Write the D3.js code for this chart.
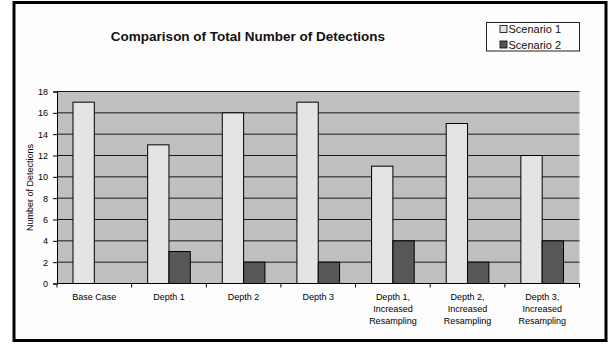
<!DOCTYPE html>
<html>
<head>
<meta charset="utf-8">
<script src="https://cdn.jsdelivr.net/npm/d3@7"></script>
<style>
  html, body { margin: 0; padding: 0; background: #fff; }
  svg { display: block; }
</style>
</head>
<body>
<svg id="chart" width="608" height="344"></svg>
<script>
// Detection counts per configuration
const categories = [
  "Base Case",
  "Depth 1",
  "Depth 2",
  "Depth 3",
  "Depth 1,\nIncreased\nResampling",
  "Depth 2,\nIncreased\nResampling",
  "Depth 3,\nIncreased\nResampling"
];
const seriesNames = ["Scenario 1", "Scenario 2"];
const scenario1 = [17, 13, 16, 17, 11, 15, 12];
const scenario2 = [0, 3, 2, 2, 4, 2, 4];
const yTicks = [0, 2, 4, 6, 8, 10, 12, 14, 16, 18];

const colors = ["#e4e4e4", "#575757"];
const font = "Arial, 'Liberation Sans', sans-serif";

const svg = d3.select("#chart");

// Outer chart frame
svg.append("rect")
  .attr("x", 14).attr("y", 2.5)
  .attr("width", 592).attr("height", 338)
  .attr("fill", "#fdfdfd")
  .attr("stroke", "#000").attr("stroke-width", 3);

const plot = { left: 57, right: 579.5, top: 91.5, bottom: 283.5 };

const x = d3.scaleBand()
  .domain(d3.range(categories.length))
  .range([plot.left, plot.right])
  .padding(0);

const y = d3.scaleLinear()
  .domain([0, 18])
  .range([plot.bottom, plot.top]);

// Two bars per group, 150% gap width split on both sides
const barW = x.bandwidth() / 3.5;
const inner = d3.scaleBand()
  .domain([0, 1])
  .range([barW * 0.75, barW * 2.75]);

// Plot area background
svg.append("rect")
  .attr("x", plot.left).attr("y", plot.top)
  .attr("width", plot.right - plot.left)
  .attr("height", plot.bottom - plot.top)
  .attr("fill", "#c0c0c0");

// Horizontal gridlines
svg.append("g")
  .selectAll("line")
  .data(yTicks.filter(d => d > 0))
  .join("line")
  .attr("x1", plot.left).attr("x2", plot.right)
  .attr("y1", d => y(d)).attr("y2", d => y(d))
  .attr("stroke", "#1a1a1a").attr("stroke-width", 1);

// Bars
const rows = categories.map((c, i) => ({ i, values: [scenario1[i], scenario2[i]] }));
const groups = svg.append("g")
  .selectAll("g")
  .data(rows)
  .join("g")
  .attr("transform", d => `translate(${x(d.i)},0)`);

groups.selectAll("rect")
  .data(d => d.values.map((v, s) => ({ v, s })).filter(e => e.v > 0))
  .join("rect")
  .attr("x", e => inner(e.s))
  .attr("width", inner.bandwidth())
  .attr("y", e => y(e.v))
  .attr("height", e => y(0) - y(e.v))
  .attr("fill", e => colors[e.s])
  .attr("stroke", "#000").attr("stroke-width", 1);

// Y axis
const yAxis = d3.axisLeft(y)
  .tickValues(yTicks)
  .tickSize(4)
  .tickPadding(5);
const yg = svg.append("g")
  .attr("transform", `translate(${plot.left},0)`)
  .call(yAxis);
yg.select(".domain").attr("stroke", "#000");
yg.selectAll(".tick line").attr("stroke", "#000");
yg.selectAll(".tick text")
  .attr("font-family", font).attr("font-size", 9).attr("fill", "#000");

// X axis with tick marks on the group boundaries
const xg = svg.append("g")
  .attr("transform", `translate(0,${plot.bottom})`);
xg.append("line")
  .attr("x1", plot.left).attr("x2", plot.right)
  .attr("stroke", "#000");
xg.selectAll("line.tick")
  .data(d3.range(categories.length + 1))
  .join("line")
  .attr("class", "tick")
  .attr("x1", i => plot.left + i * x.step())
  .attr("x2", i => plot.left + i * x.step())
  .attr("y1", 0).attr("y2", 4)
  .attr("stroke", "#000");

// Category labels
const labels = xg.selectAll("text.cat")
  .data(categories)
  .join("text")
  .attr("class", "cat")
  .attr("x", (d, i) => x(i) + x.bandwidth() / 2)
  .attr("y", 16)
  .attr("text-anchor", "middle")
  .attr("font-family", font).attr("font-size", 9).attr("fill", "#000");
labels.selectAll("tspan")
  .data(d => d.split("\n"))
  .join("tspan")
  .attr("x", function () { return d3.select(this.parentNode).attr("x"); })
  .attr("dy", (d, i) => i === 0 ? 0 : 12.4)
  .text(d => d);

// Y axis title
svg.append("text")
  .attr("transform", `translate(33,${(plot.top + plot.bottom) / 2}) rotate(-90)`)
  .attr("text-anchor", "middle")
  .attr("font-family", font).attr("font-size", 9).attr("fill", "#000")
  .text("Number of Detections");

// Chart title
svg.append("text")
  .attr("x", 248).attr("y", 41)
  .attr("text-anchor", "middle")
  .attr("font-family", font).attr("font-size", 13.5).attr("font-weight", "bold")
  .attr("fill", "#111")
  .text("Comparison of Total Number of Detections");

// Legend
const legend = svg.append("g");
legend.append("rect")
  .attr("x", 486.5).attr("y", 22.5)
  .attr("width", 93).attr("height", 28.5)
  .attr("fill", "#fdfdfd")
  .attr("stroke", "#222").attr("stroke-width", 1);
const items = legend.selectAll("g")
  .data(seriesNames)
  .join("g")
  .attr("transform", (d, i) => `translate(500,${29 + i * 15.5})`);
items.append("rect")
  .attr("x", 0).attr("y", -3.5)
  .attr("width", 7).attr("height", 7)
  .attr("fill", (d, i) => colors[i])
  .attr("stroke", "#000").attr("stroke-width", 0.8);
items.append("text")
  .attr("x", 8.5).attr("y", 4)
  .attr("font-family", font).attr("font-size", 11).attr("fill", "#111")
  .text(d => d);
</script>
</body>
</html>
